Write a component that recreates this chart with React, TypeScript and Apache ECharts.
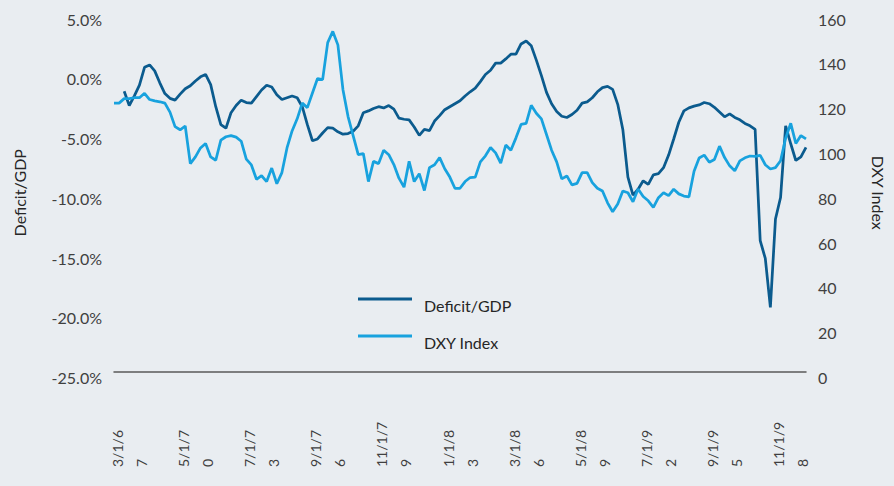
import React, { useEffect, useRef } from "react";
import * as echarts from "echarts";

// Tick labels of the category axis and the period index each one sits on
const tickLabels = ["3/1/67", "5/1/70", "7/1/73", "9/1/76", "11/1/79", "1/1/83", "3/1/86", "5/1/89", "7/1/92", "9/1/95", "11/1/98"];
const tickIndices = [3, 16, 29, 42, 55, 68, 81, 94, 107, 120, 133];

// Deficit/GDP (%), left axis
const deficitGDP: (number | null)[] = [
  null, null, -1.5, -2.7, -1.9, -1.0, 0.5, 0.7, 0.2, -0.8,
  -1.7, -2.1, -2.25, -1.75, -1.3, -1.05, -0.65, -0.3, -0.1, -0.95,
  -2.8, -4.3, -4.6, -3.3, -2.7, -2.25, -2.45, -2.5, -1.95, -1.4,
  -1.0, -1.15, -1.8, -2.2, -2.05, -1.9, -2.05, -2.8, -4.3, -5.65,
  -5.5, -5.0, -4.55, -4.6, -4.9, -5.1, -5.05, -4.85, -4.4, -3.3,
  -3.15, -2.95, -2.8, -2.9, -2.7, -3.0, -3.75, -3.85, -3.9, -4.5,
  -5.2, -4.7, -4.8, -4.0, -3.55, -3.05, -2.8, -2.55, -2.3, -1.9,
  -1.55, -1.25, -0.7, -0.1, 0.25, 0.85, 0.85, 1.2, 1.6, 1.6,
  2.45, 2.7, 2.3, 1.1, -0.2, -1.6, -2.55, -3.2, -3.6, -3.7,
  -3.45, -3.1, -2.5, -2.4, -2.05, -1.55, -1.2, -1.1, -1.35, -2.6,
  -4.7, -8.7, -10.2, -9.7, -9.0, -9.3, -8.5, -8.4, -7.9, -6.85,
  -5.5, -4.1, -3.15, -2.9, -2.75, -2.65, -2.45, -2.55, -2.85, -3.25,
  -3.65, -3.4, -3.7, -3.9, -4.2, -4.4, -4.7, -14, -15.5, -19.6,
  -12.2, -10.4, -4.4, -5.9, -7.3, -7.0, -6.2,
];

// DXY Index, right axis
const dxyIndex: number[] = [
  120, 120, 122, 122, 122.4, 122.4, 124.4, 121.6, 121, 120.6,
  120, 116, 109.5, 108.1, 109.8, 93, 96, 100, 102, 96,
  94.5, 103.5, 105, 105.5, 104.8, 103, 95, 92.4, 86, 87.6,
  85, 91, 84, 89, 100, 107.6, 113, 120, 118, 124.5,
  131, 130.5, 147, 152, 146, 126, 114, 105.5, 97, 97.5,
  85, 94, 93, 99, 97, 92.6, 86.5, 82.5, 94, 85,
  88.5, 81, 91.2, 92.5, 95.7, 90.7, 87, 82, 82, 85,
  86.8, 87, 93.8, 96.5, 100.2, 97.8, 93.2, 101.3, 99, 104.5,
  110.5, 111, 119, 115.5, 113, 106, 99, 93.8, 86.2, 87.5,
  83.5, 84.2, 89, 89, 84.5, 82, 80.8, 75.5, 71.5, 75,
  80.8, 80, 76, 81.7, 78.3, 76.4, 73.5, 77.8, 80, 78.7,
  81.6, 79.5, 78.5, 78.2, 89.6, 95.5, 96.8, 93.6, 94.8, 100.8,
  95.7, 92, 89.8, 94.2, 95.6, 96.4, 96.2, 96.7, 92.5, 90.6,
  91.2, 94.3, 104.4, 111, 102, 105.5, 104,
];

const periods = dxyIndex.map((_, i) => String(i));

const DARK = "#0B5B8E";
const LIGHT = "#18A2DE";
const FONT = "Lato, 'Open Sans', sans-serif";
const TEXT = "#404040";

const shiftedLabel = { padding: [11, 0, 0, 0], fontSize: 16, color: TEXT, fontFamily: FONT, lineHeight: 18 };

export default function App() {
  const ref = useRef<HTMLDivElement>(null);
  useEffect(() => {
    if (!ref.current) return;
    const chart = echarts.init(ref.current, undefined, { renderer: "svg" });
    chart.setOption({
      animation: false,
      backgroundColor: "#E9EDF1",
      textStyle: { fontFamily: FONT },
      grid: { left: 114, right: 82, top: 12, bottom: 114, containLabel: false },
      legend: {
        orient: "vertical",
        left: 358,
        top: 285,
        padding: 0,
        icon: "rect",
        itemWidth: 54,
        itemHeight: 3,
        itemGap: 9,
        formatter: (name: string) => `{a|${name}}`,
        textStyle: {
          fontSize: 16,
          color: "#262626",
          fontFamily: FONT,
          rich: { a: { padding: [12, 0, 0, 7], fontSize: 16, lineHeight: 18, color: "#262626", fontFamily: FONT } },
        },
        data: ["Deficit/GDP", "DXY Index"],
      },
      xAxis: {
        type: "category",
        boundaryGap: false,
        data: periods,
        axisLine: { onZero: false, lineStyle: { color: "#595959", width: 1.5 } },
        axisTick: { show: false },
        splitLine: { show: false },
        axisLabel: {
          interval: (i: number) => tickIndices.includes(i),
          formatter: (_v: string, i: number) => {
            const k = tickIndices.indexOf(i);
            if (k < 0) return "";
            const s = tickLabels[k];
            return s.slice(0, -1) + "\n" + s.slice(-1);
          },
          rotate: 90,
          align: "left",
          verticalAlign: "middle",
          margin: 95,
          fontSize: 14,
          lineHeight: 24,
          color: TEXT,
          fontFamily: FONT,
        },
      },
      yAxis: [
        {
          type: "value",
          position: "left",
          min: -25,
          max: 5,
          interval: 5,
          axisLine: { show: false },
          axisTick: { show: false },
          splitLine: { show: false },
          axisLabel: {
            formatter: (v: number) => `{a|${v.toFixed(1)}%}`,
            margin: 12,
            rich: { a: shiftedLabel },
          },
          name: "Deficit/GDP",
          nameLocation: "middle",
          nameGap: 87,
          nameTextStyle: { fontSize: 16, color: "#262626", fontFamily: FONT },
        },
        {
          type: "value",
          position: "right",
          min: 0,
          max: 160,
          interval: 20,
          axisLine: { show: false },
          axisTick: { show: false },
          splitLine: { show: false },
          axisLabel: {
            formatter: (v: number) => `{a|${v}}`,
            margin: 12,
            rich: { a: shiftedLabel },
          },
          name: "DXY Index",
          nameLocation: "middle",
          nameRotate: -90,
          nameGap: 64,
          nameTextStyle: { fontSize: 16, color: "#262626", fontFamily: FONT },
        },
      ],
      series: [
        {
          name: "Deficit/GDP",
          type: "line",
          yAxisIndex: 0,
          data: deficitGDP,
          showSymbol: false,
          symbol: "none",
          lineStyle: { color: DARK, width: 2.75 },
          itemStyle: { color: DARK },
        },
        {
          name: "DXY Index",
          type: "line",
          yAxisIndex: 1,
          data: dxyIndex,
          showSymbol: false,
          symbol: "none",
          lineStyle: { color: LIGHT, width: 2.75 },
          itemStyle: { color: LIGHT },
        },
      ],
    });
    return () => chart.dispose();
  }, []);
  return <div ref={ref} style={{ position: "fixed", left: 0, top: 0, width: 894, height: 486 }} />;
}
